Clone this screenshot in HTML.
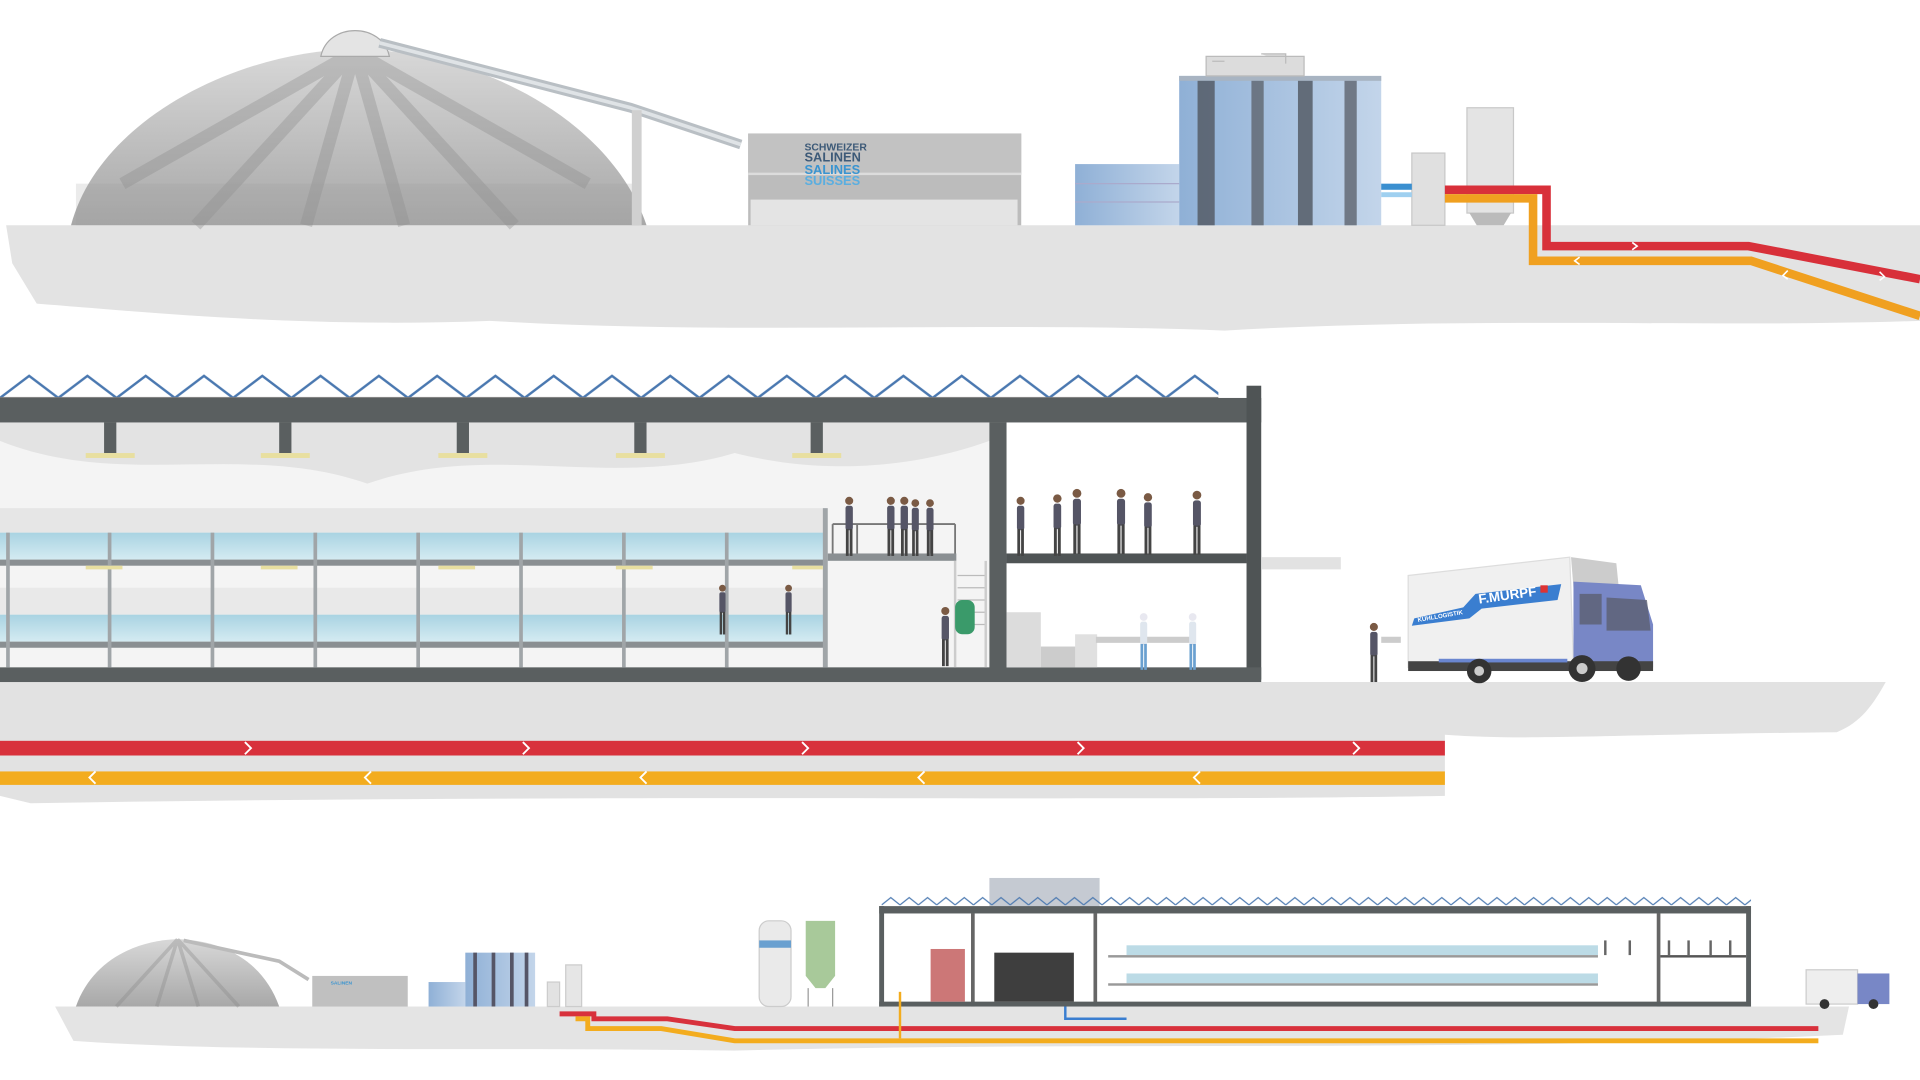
<!DOCTYPE html>
<html><head><meta charset="utf-8"><style>
html,body{margin:0;padding:0;background:#fff;width:1920px;height:1080px;overflow:hidden}
svg{display:block}
text{font-family:"Liberation Sans",sans-serif;font-weight:bold}
</style></head><body>
<svg width="1920" height="1080" viewBox="0 0 1568 882" xmlns="http://www.w3.org/2000/svg">
<defs>
<pattern id="truss" x="0" y="305" width="47.6" height="22" patternUnits="userSpaceOnUse">
<polyline points="0,20 23.8,2 47.6,20" fill="none" stroke="#4a78b0" stroke-width="2"/>
<line x1="0" y1="20" x2="47.6" y2="20" stroke="#777" stroke-width="1.5"/>
</pattern>
<pattern id="truss2" x="0" y="740" width="15" height="8" patternUnits="userSpaceOnUse">
<polyline points="0,7 7.5,1 15,7" fill="none" stroke="#4a78b0" stroke-width="1"/>
</pattern>
<linearGradient id="dome" x1="0" y1="0" x2="0" y2="1"><stop offset="0" stop-color="#d8d8d8"/><stop offset="1" stop-color="#a8a8a8"/></linearGradient>
<linearGradient id="glass" x1="0" y1="0" x2="1" y2="0"><stop offset="0" stop-color="#8fb0d6"/><stop offset="1" stop-color="#c3d5ea"/></linearGradient>
<linearGradient id="water" x1="0" y1="0" x2="0" y2="1"><stop offset="0" stop-color="#a9d3e2"/><stop offset="1" stop-color="#d4ebf2"/></linearGradient>
<symbol id="p" viewBox="0 0 10 50"><circle cx="5" cy="4" r="3.3" fill="#7a5a44"/><rect x="2" y="8" width="6" height="20" rx="2" fill="#556"/><rect x="2.3" y="27" width="2.3" height="22" fill="#444"/><rect x="5.4" y="27" width="2.3" height="22" fill="#444"/></symbol>
<symbol id="pw" viewBox="0 0 10 50"><circle cx="5" cy="4" r="3.3" fill="#e8e8f0"/><rect x="2" y="8" width="6" height="20" rx="2" fill="#dfe6ee"/><rect x="2.3" y="27" width="2.3" height="22" fill="#6aa0d0"/><rect x="5.4" y="27" width="2.3" height="22" fill="#6aa0d0"/></symbol>
</defs>

<path d="M5,184 L1568,184 L1568,262 C1400,268 1200,258 1000,270 C800,262 600,274 400,262 C250,268 120,255 30,248 L10,215 Z" fill="#e3e3e3"/>
<path d="M58,184 C80,100 190,42 290,40 C395,42 500,100 528,184 Z" fill="url(#dome)"/>
<g stroke="#8a8a8a" stroke-width="10" opacity="0.35" fill="none">
<path d="M290,42 L250,184 M290,42 L330,184 M290,42 L160,184 M290,42 L420,184 M290,42 L100,150 M290,42 L480,150"/>
</g>
<rect x="62" y="150" width="460" height="34" fill="#999" opacity="0.2"/>
<path d="M262,46 C268,18 312,18 318,46 Z" fill="#e4e4e4" stroke="#aaa"/>
<path d="M310,35 L515,88 L605,118" stroke="#b9bfc4" stroke-width="8" fill="none"/>
<path d="M310,35 L515,88 L605,118" stroke="#dfe3e6" stroke-width="3" fill="none"/>
<rect x="516" y="90" width="8" height="94" fill="#d0d0d0"/>
<rect x="611" y="109" width="223" height="75" fill="#bcbcbc"/>
<rect x="611" y="109" width="223" height="33" fill="#c2c2c2"/>
<rect x="611" y="141" width="223" height="2" fill="#dcdcdc"/>
<rect x="613" y="163" width="218" height="21" fill="#e4e4e4"/>
<text x="657" y="123" font-size="8.5" fill="#3d5a78">SCHWEIZER</text>
<text x="657" y="132" font-size="10.5" fill="#3d5a78">SALINEN</text>
<text x="657" y="142" font-size="10.5" fill="#3a94d0">SALINES</text>
<text x="657" y="151" font-size="10.5" fill="#5aaee0">SUISSES</text>
<rect x="878" y="134" width="85" height="50" fill="url(#glass)"/>
<path d="M878,150 H963 M878,165 H963" stroke="#aac" stroke-width="1"/>
<rect x="963" y="62" width="165" height="122" fill="url(#glass)"/>
<rect x="963" y="62" width="165" height="4" fill="#a8b4c2"/>
<rect x="978" y="66" width="14" height="118" fill="#555c66" opacity="0.85"/>
<rect x="1022" y="66" width="10" height="118" fill="#636a74" opacity="0.85"/>
<rect x="1060" y="66" width="12" height="118" fill="#555c66" opacity="0.85"/>
<rect x="1098" y="66" width="10" height="118" fill="#636a74" opacity="0.85"/>
<path d="M985,46 h80 v16 h-80z M990,50 h10 M1030,44 h20 v8" fill="#dcdcdc" stroke="#bbb"/>
<rect x="1153" y="125" width="27" height="59" fill="#e0e0e0" stroke="#c8c8c8"/>
<rect x="1198" y="88" width="38" height="86" fill="#e4e4e4" stroke="#c8c8c8"/>
<path d="M1200,174 L1234,174 L1228,184 L1206,184 Z" fill="#bbb"/>
<rect x="1128" y="150" width="25" height="5" fill="#3a8fd0"/>
<rect x="1128" y="157" width="25" height="4" fill="#9fd0f0"/>
<path d="M1180,155 H1263 V201 H1428 L1568,228" fill="none" stroke="#d8303a" stroke-width="7"/>
<path d="M1180,162 H1252 V213 H1430 L1568,258" fill="none" stroke="#f0a020" stroke-width="7"/>
<path d="M1333,198 l4,3 l-4,3 M1535,222 l4,4 l-4,3" stroke="#fff" fill="none" stroke-width="1.3"/>
<path d="M1290,210 l-4,3 l4,3 M1460,221 l-4,4 l4,3" stroke="#fff" fill="none" stroke-width="1.3"/>

<path d="M0,557 L1540,557 C1530,575 1520,590 1500,598 C1300,600 1250,605 1180,600 L1180,650 C900,655 500,648 25,656 L0,650 Z" fill="#e2e2e2"/>
<rect x="0" y="345" width="808" height="200" fill="#f4f4f4"/>
<path d="M0,360 C100,400 200,360 300,395 C400,360 500,400 600,370 C700,395 780,370 808,360 V345 H0Z" fill="#dcdcdc" opacity="0.7"/>
<rect x="0" y="305" width="995" height="22" fill="url(#truss)"/>
<rect x="0" y="325" width="1030" height="20" fill="#5a5f60"/>
<rect x="1018" y="315" width="12" height="240" fill="#4f5455"/>
<rect x="808" y="345" width="14" height="210" fill="#5a5f60"/>
<rect x="822" y="452" width="196" height="8" fill="#4f5455"/>
<rect x="0" y="545" width="1030" height="12" fill="#5a5f60"/>
<g fill="#5a5f60">
<rect x="85" y="345" width="10" height="25"/><rect x="228" y="345" width="10" height="25"/><rect x="373" y="345" width="10" height="25"/><rect x="518" y="345" width="10" height="25"/><rect x="662" y="345" width="10" height="25"/>
</g>
<g fill="#e8dfa0"><rect x="70" y="370" width="40" height="4"/><rect x="213" y="370" width="40" height="4"/><rect x="358" y="370" width="40" height="4"/><rect x="503" y="370" width="40" height="4"/><rect x="647" y="370" width="40" height="4"/></g>
<rect x="0" y="415" width="675" height="20" fill="#e6e6e6"/>
<rect x="0" y="435" width="675" height="22" fill="url(#water)"/>
<rect x="0" y="457" width="675" height="5" fill="#8a8f92"/>
<rect x="0" y="480" width="675" height="22" fill="#e9e9e9"/>
<rect x="0" y="502" width="675" height="22" fill="url(#water)"/>
<rect x="0" y="524" width="675" height="5" fill="#8a8f92"/>
<g fill="#a0a5a8">
<rect x="5" y="435" width="3" height="110"/><rect x="88" y="435" width="3" height="110"/><rect x="172" y="435" width="3" height="110"/><rect x="256" y="435" width="3" height="110"/><rect x="340" y="435" width="3" height="110"/><rect x="424" y="435" width="3" height="110"/><rect x="508" y="435" width="3" height="110"/><rect x="592" y="435" width="3" height="110"/><rect x="672" y="415" width="4" height="130"/>
</g>
<g fill="#e8dfa0"><rect x="70" y="462" width="30" height="3"/><rect x="213" y="462" width="30" height="3"/><rect x="358" y="462" width="30" height="3"/><rect x="503" y="462" width="30" height="3"/><rect x="647" y="462" width="25" height="3"/></g>
<rect x="676" y="452" width="105" height="6" fill="#8a8f92"/>
<path d="M680,428 H780 M680,428 V452 M700,428 V452 M760,428 V452 M780,428 V452" stroke="#777" stroke-width="1.5" fill="none"/>
<path d="M780,458 V545 M805,458 V545" stroke="#ccc" stroke-width="2"/>
<path d="M782,470 H804 M782,480 H804 M782,490 H804 M782,500 H804 M782,510 H804" stroke="#bbb"/>
<rect x="1030" y="455" width="65" height="10" fill="#e2e2e2"/>
<use href="#p" x="688" y="405" width="11" height="50"/>
<use href="#p" x="722" y="405" width="11" height="50"/>
<use href="#p" x="733" y="405" width="11" height="50"/>
<use href="#p" x="742" y="407" width="11" height="48"/>
<use href="#p" x="754" y="407" width="11" height="48"/>
<use href="#p" x="828" y="405" width="11" height="50"/>
<use href="#p" x="858" y="403" width="11" height="52"/>
<use href="#p" x="874" y="398" width="11" height="56"/>
<use href="#p" x="910" y="398" width="11" height="56"/>
<use href="#p" x="932" y="402" width="11" height="52"/>
<use href="#p" x="972" y="400" width="11" height="54"/>
<use href="#p" x="584" y="477" width="12" height="42"/>
<use href="#p" x="638" y="477" width="12" height="42"/>
<use href="#p" x="766" y="495" width="12" height="50"/>
<rect x="780" y="490" width="16" height="28" rx="6" fill="#3a9a6a"/>
<rect x="822" y="500" width="28" height="45" fill="#dcdcdc"/>
<rect x="850" y="528" width="30" height="17" fill="#ccc"/>
<rect x="878" y="518" width="18" height="27" fill="#e0e0e0"/>
<rect x="895" y="520" width="80" height="5" fill="#ccc"/>
<use href="#pw" x="928" y="500" width="12" height="48"/>
<use href="#pw" x="968" y="500" width="12" height="48"/>
<use href="#p" x="1115" y="508" width="14" height="50"/>
<rect x="1128" y="520" width="16" height="5" fill="#ccc"/>
<path d="M1150,470 L1282,455 L1285,542 L1150,545 Z" fill="#f0f0f0" stroke="#ddd"/>
<path d="M1283,455 L1320,460 L1322,480 L1285,480 Z" fill="#ccc"/>
<path d="M1285,475 L1340,478 L1350,510 L1350,545 L1285,545 Z" fill="#7887c6"/>
<path d="M1290,485 L1308,485 L1308,510 L1290,510 Z M1312,488 L1345,490 L1348,515 L1312,515Z" fill="#5b5f70" opacity="0.8"/>
<rect x="1150" y="540" width="200" height="8" fill="#444"/>
<rect x="1175" y="538" width="105" height="3" fill="#6a86d0"/>
<path d="M1155,505 L1195,496 L1205,485 L1275,477 L1272,490 L1210,497 L1200,505 L1153,511 Z" fill="#3a7ed0"/>
<text x="1208" y="493" font-size="11" fill="#fff" transform="rotate(-8 1208 493)">F.MURPF</text>
<text x="1158" y="508" font-size="5" fill="#fff" transform="rotate(-10 1158 508)">KÜHLLOGISTIK</text>
<rect x="1258" y="478" width="6" height="6" fill="#d33"/>
<circle cx="1208" cy="548" r="10" fill="#333"/><circle cx="1208" cy="548" r="4" fill="#ccc"/>
<circle cx="1292" cy="546" r="11" fill="#333"/><circle cx="1292" cy="546" r="4.5" fill="#ccc"/>
<circle cx="1330" cy="546" r="10" fill="#333"/>
<rect x="0" y="605" width="1180" height="12" fill="#d8313c"/>
<rect x="0" y="630" width="1180" height="11" fill="#f3ac1e"/>
<g stroke="#fff" stroke-width="1.5" fill="none">
<path d="M200,606 l5,5 l-5,5 M427,606 l5,5 l-5,5 M655,606 l5,5 l-5,5 M880,606 l5,5 l-5,5 M1105,606 l5,5 l-5,5"/>
<path d="M78,630 l-5,5 l5,5 M303,630 l-5,5 l5,5 M528,630 l-5,5 l5,5 M755,630 l-5,5 l5,5 M980,630 l-5,5 l5,5"/>
</g>

<path d="M45,822 L1510,822 L1505,845 C1200,860 900,850 600,858 C400,855 200,860 60,850 Z" fill="#e4e4e4"/>
<path d="M62,822 C75,785 110,768 145,767 C182,768 215,785 228,822 Z" fill="url(#dome)"/>
<path d="M145,767 L128,822 M145,767 L162,822 M145,767 L95,822 M145,767 L195,822" stroke="#888" stroke-width="3" opacity="0.35"/>
<path d="M150,768 L228,785 L252,800" stroke="#bbb" stroke-width="3" fill="none"/>
<rect x="255" y="797" width="78" height="25" fill="#c0c0c0"/>
<text x="270" y="804" font-size="4" fill="#3a94d0">SALINEN</text>
<rect x="350" y="802" width="30" height="20" fill="url(#glass)"/>
<rect x="380" y="778" width="57" height="44" fill="url(#glass)"/>
<path d="M388,778 V822 M403,778 V822 M418,778 V822 M430,778 V822" stroke="#556" stroke-width="3"/>
<rect x="447" y="802" width="10" height="20" fill="#e2e2e2" stroke="#ccc"/>
<rect x="462" y="788" width="13" height="34" fill="#e6e6e6" stroke="#ccc"/>
<rect x="620" y="752" width="26" height="70" rx="8" fill="#eaeaea" stroke="#ccc"/>
<rect x="620" y="768" width="26" height="6" fill="#6aa0d0"/>
<path d="M658,752 h24 v45 l-8,10 h-8 l-8,-10 z" fill="#a8c99a"/>
<path d="M660,807 V822 M680,807 V822" stroke="#999"/>
<rect x="808" y="717" width="90" height="24" fill="#c5cad2"/>
<rect x="720" y="732" width="710" height="10" fill="url(#truss2)"/>
<rect x="718" y="740" width="712" height="6" fill="#5a5f60"/>
<rect x="718" y="740" width="4" height="82" fill="#5a5f60"/><rect x="1426" y="740" width="4" height="82" fill="#5a5f60"/>
<rect x="793" y="746" width="3" height="76" fill="#666"/><rect x="893" y="746" width="3" height="76" fill="#666"/><rect x="1353" y="746" width="3" height="76" fill="#666"/>
<rect x="718" y="818" width="712" height="4" fill="#5a5f60"/>
<rect x="760" y="775" width="28" height="43" fill="#c77"/>
<rect x="812" y="778" width="65" height="40" fill="#3e3e3e"/>
<rect x="920" y="772" width="385" height="8" fill="#bcdbe6"/>
<rect x="920" y="795" width="385" height="8" fill="#bcdbe6"/>
<rect x="905" y="780" width="400" height="2" fill="#999"/><rect x="905" y="803" width="400" height="2" fill="#999"/>
<rect x="1356" y="780" width="70" height="2" fill="#555"/>
<g fill="#666"><rect x="1310" y="768" width="2" height="12"/><rect x="1330" y="768" width="2" height="12"/><rect x="1362" y="768" width="2" height="12"/><rect x="1378" y="768" width="2" height="12"/><rect x="1396" y="768" width="2" height="12"/><rect x="1412" y="768" width="2" height="12"/></g>
<rect x="1475" y="792" width="42" height="28" fill="#eee" stroke="#ccc"/>
<rect x="1517" y="795" width="26" height="25" fill="#7887c6"/>
<circle cx="1490" cy="820" r="4" fill="#333"/><circle cx="1530" cy="820" r="4" fill="#333"/>
<path d="M870,822 V832 H920" stroke="#3a7ed0" stroke-width="2" fill="none"/>
<path d="M457,828 H485 V832 H545 L600,840 H1485" fill="none" stroke="#d8313c" stroke-width="4"/>
<path d="M470,832 H480 V840 H540 L600,850 H1485" fill="none" stroke="#f3ac1e" stroke-width="4"/>
<path d="M735,810 V848" stroke="#f3ac1e" stroke-width="2"/>
</svg>
</body></html>
